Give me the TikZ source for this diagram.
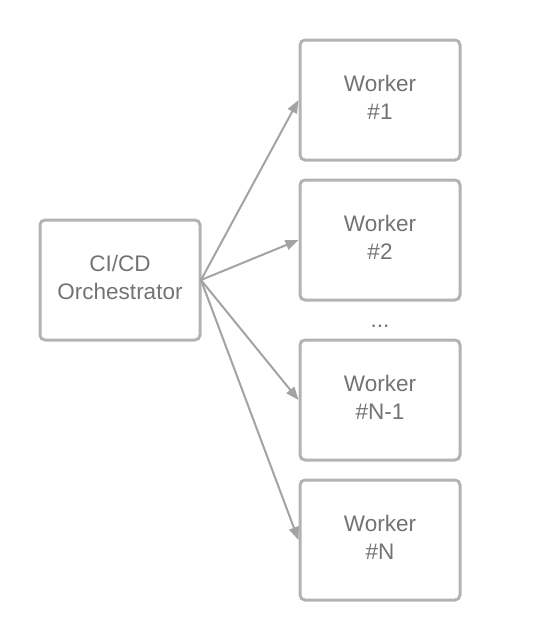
\documentclass[tikz,border=0pt]{standalone}
\usepackage{fontspec}
\setmainfont{Liberation Sans}
\usetikzlibrary{arrows.meta}
\definecolor{boxline}{HTML}{B3B3B3}
\definecolor{arrline}{HTML}{A3A3A3}
\definecolor{txt}{HTML}{737373}
\newcommand{\twolines}[2]{\raisebox{3.5pt}{\begin{tabular}{@{}c@{}}#1\\#2\end{tabular}}}
\tikzset{
  box/.style={draw=boxline, line width=3pt, rounded corners=5pt, fill=white,
    minimum width=160pt, minimum height=120pt, inner sep=0pt, align=center,
    text=txt, font=\fontsize{22.5}{27.5}\selectfont},
  conn/.style={draw=arrline, line width=2pt, -{Triangle[length=13pt,width=10pt]}},
}
\begin{document}
\begin{tikzpicture}[x=1pt,y=-1pt]
\useasboundingbox (0,0) rectangle (540,640);
\node[box] (orch) at (120,280) {\twolines{CI/CD}{Orchestrator}};
\node[box] (w1) at (380,100) {\twolines{Worker}{\#1}};
\node[box] (w2) at (380,240) {\twolines{Worker}{\#2}};
\node[box] (w3) at (380,400) {\twolines{Worker}{\#N-1}};
\node[box] (w4) at (380,540) {\twolines{Worker}{\#N}};
\node[text=txt, font=\fontsize{22.5}{27}\selectfont] (dots) at (380,326) {...};
\coordinate (s) at (201,280);
\draw[conn] (s) -- (w1.west);
\draw[conn] (s) -- (w2.west);
\draw[conn] (s) -- (w3.west);
\draw[conn] (s) -- (w4.west);
\end{tikzpicture}
\end{document}
